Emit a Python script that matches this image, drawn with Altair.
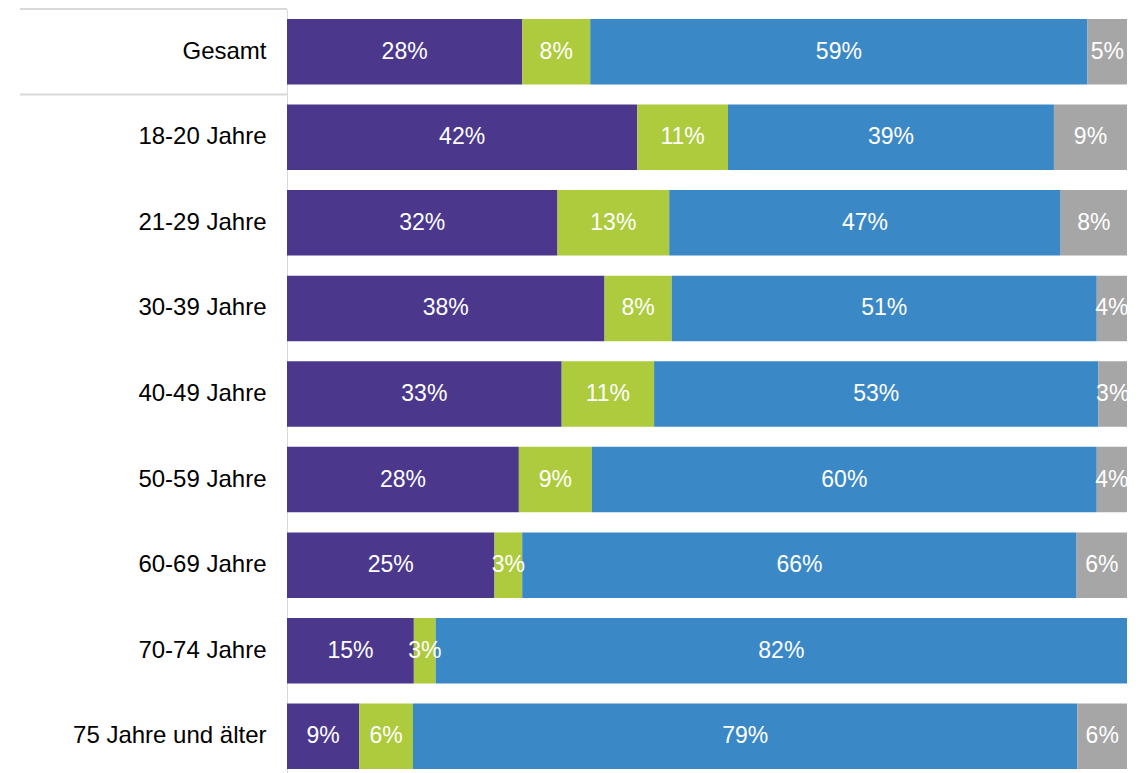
import altair as alt
import pandas as pd

groups = ["Gesamt", "18-20 Jahre", "21-29 Jahre", "30-39 Jahre", "40-49 Jahre",
          "50-59 Jahre", "60-69 Jahre", "70-74 Jahre", "75 Jahre und älter"]
series = ["Kategorie 1", "Kategorie 2", "Kategorie 3", "Kategorie 4"]
colors = ["#4b388d", "#adcb3c", "#3b88c7", "#a6a6a6"]

s1 = [28.0, 41.7, 32.2, 37.8, 32.7, 27.6, 24.7, 15.1, 8.6]
s2 = [8.1, 10.8, 13.3, 8.0, 11.0, 8.7, 3.3, 2.6, 6.4]
s3 = [59.2, 38.8, 46.6, 50.6, 52.9, 60.1, 66.0, 82.3, 79.1]
s4 = [4.7, 8.7, 7.9, 3.6, 3.4, 3.6, 6.0, 0.0, 5.9]

separator_groups = ["Gesamt", "18-20 Jahre"]

rows = []
for i, g in enumerate(groups):
    for k, vals in enumerate([s1, s2, s3, s4]):
        rows.append({"group": g, "series": series[k], "order": k, "value": vals[i]})
df = pd.DataFrame(rows)

sep = pd.DataFrame({"group": separator_groups})

base = alt.Chart(df).transform_stack(
    stack="value", groupby=["group"], as_=["x0", "x1"],
    sort=[alt.SortField("order", order="ascending")]
)

yenc = alt.Y("group:N", sort=groups, title=None,
             scale=alt.Scale(paddingInner=0.235, paddingOuter=0.117),
             axis=alt.Axis(ticks=False, tickSize=0, labelPadding=21, labelFontSize=24,
                           labelFont="Liberation Sans", labelColor="#000000",
                           domainColor="#d9d9d9", domainWidth=1, minExtent=279,
                           labelLimit=400, grid=False))

bars = base.mark_bar(size=65.5).encode(
    y=yenc,
    x=alt.X("x0:Q", scale=alt.Scale(domain=[0, 100], nice=False, zero=True), axis=None),
    x2="x1:Q",
    color=alt.Color("series:N", scale=alt.Scale(domain=series, range=colors), legend=None),
)

labels = base.transform_filter("datum.value > 0").transform_calculate(
    mid="(datum.x0 + datum.x1) / 2",
    lbl="format(datum.value, '.0f') + '%'"
).mark_text(color="white", fontSize=23, font="Liberation Sans", align="center", baseline="middle").encode(
    y=alt.Y("group:N", sort=groups),
    x=alt.X("mid:Q"),
    text="lbl:N",
)

rules = alt.Chart(sep).mark_rule(color="#d9d9d9", strokeWidth=2).encode(
    y=alt.Y("group:N", sort=groups, bandPosition=0),
    yOffset=alt.value(-10),
    x=alt.value(-267), x2=alt.value(0),
)

chart = alt.layer(bars, labels, rules).properties(
    width=840, height=770, padding=0
).configure_view(stroke=None)

chart.save("out.html", embed_options={"renderer": "svg", "actions": False})
